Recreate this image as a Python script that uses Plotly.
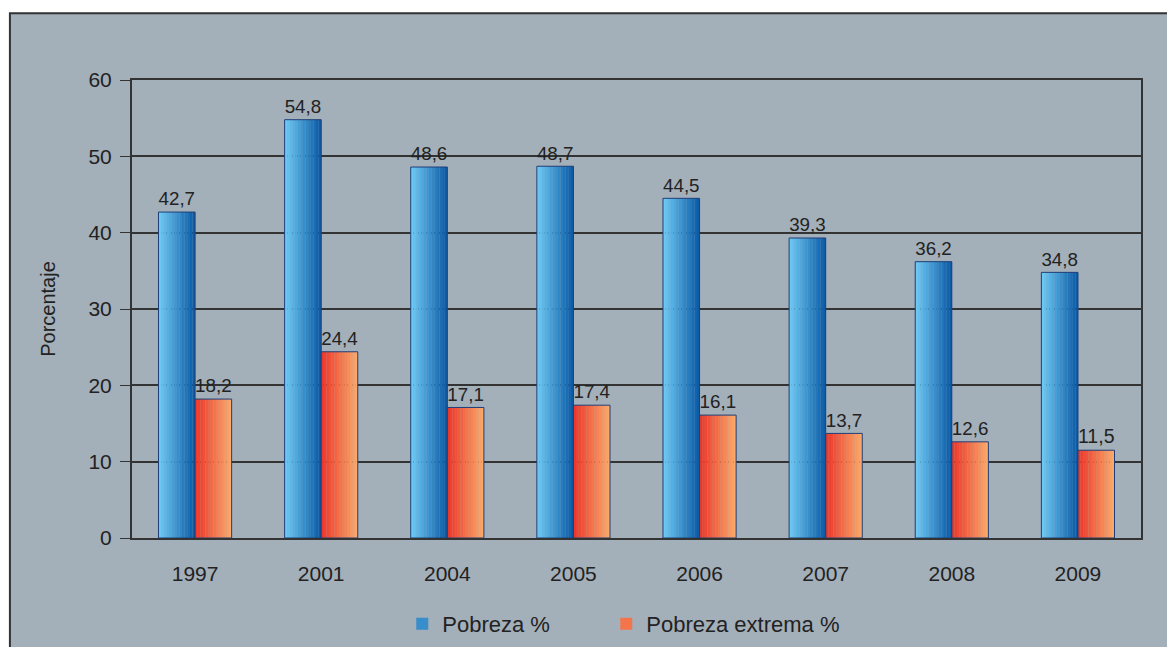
import plotly.graph_objects as go

# ── Data ──────────────────────────────────────────────────────────────────────
years = ["1997", "2001", "2004", "2005", "2006", "2007", "2008", "2009"]
pobreza = [42.7, 54.8, 48.6, 48.7, 44.5, 39.3, 36.2, 34.8]
pobreza_extrema = [18.2, 24.4, 17.1, 17.4, 16.1, 13.7, 12.6, 11.5]

# ── Style ─────────────────────────────────────────────────────────────────────
FONT = "Liberation Sans, Arial, sans-serif"
BOX_BG = "#a3afb9"
PLOT_BG = "#d4d4d4"
INK = "#222222"
LINE = "#333333"
BAR_W = 0.29      # width of one bar, in category units
N_SLICES = 14     # thin slices used to fake the horizontal gradient

SERIES = [
    # name, values, left colour, right colour, offset, legend id
    ("Pobreza %", pobreza, (112, 204, 246), (8, 88, 164), -BAR_W, "legend"),
    ("Pobreza extrema %", pobreza_extrema, (236, 52, 40), (250, 172, 108), 0.0, "legend2"),
]


def mix(c0, c1, t):
    r, g, b = (round(a + (b - a) * t) for a, b in zip(c0, c1))
    return f"rgb({r},{g},{b})"


def fmt(v):
    return f"{v:.1f}".replace(".", ",")


fig = go.Figure()

for name, vals, c0, c1, off, leg in SERIES:
    step = BAR_W / N_SLICES
    for k in range(N_SLICES):
        fig.add_trace(
            go.Bar(
                x=years,
                y=vals,
                width=step * 1.05,
                offset=off + k * step,
                marker={"color": mix(c0, c1, (k + 0.5) / N_SLICES), "line": {"width": 0}},
                name=name,
                legend=leg,
                legendgroup=name,
                showlegend=(k == N_SLICES // 2),
                hoverinfo="skip",
            )
        )
    # outline + value labels
    fig.add_trace(
        go.Bar(
            x=years,
            y=vals,
            width=BAR_W,
            offset=off,
            marker={"color": "rgba(0,0,0,0)", "line": {"color": "#1f3f78", "width": 1}},
            text=[fmt(v) for v in vals],
            textposition="outside",
            textfont={"size": 20, "color": INK, "family": FONT},
            cliponaxis=False,
            name=name,
            legend=leg,
            legendgroup=name,
            showlegend=False,
            hovertemplate="%{x}<br>%{y:.1f}%<extra>" + name + "</extra>",
        )
    )

# grey framed box behind the chart (open to the right and bottom)
fig.add_shape(
    type="rect",
    xref="paper", yref="paper",
    x0=-0.121, x1=1.2, y0=-0.5, y1=1.146,
    fillcolor=BOX_BG,
    line={"color": LINE, "width": 2},
    layer="below",
)

legend_style = {
    "orientation": "h",
    "xref": "container",
    "yref": "container",
    "xanchor": "left",
    "yanchor": "middle",
    "y": 0.0355,
    "font": {"size": 22, "color": INK},
    "bgcolor": "rgba(0,0,0,0)",
}

fig.update_layout(
    width=1167,
    height=647,
    barmode="overlay",
    margin={"l": 132, "r": 26, "t": 80, "b": 109},
    paper_bgcolor="white",
    plot_bgcolor=PLOT_BG,
    font={"family": FONT, "size": 21, "color": INK},
    legend={**legend_style, "x": 0.3447},
    legend2={**legend_style, "x": 0.5195},
    xaxis={
        "showgrid": False,
        "showline": True,
        "linecolor": LINE,
        "linewidth": 2,
        "mirror": True,
        "ticks": "",
        "ticklabelstandoff": 16,
        "tickfont": {"size": 21},
    },
    yaxis={
        "range": [0, 60],
        "dtick": 10,
        "showgrid": True,
        "gridcolor": LINE,
        "gridwidth": 1.5,
        "showline": True,
        "linecolor": LINE,
        "linewidth": 2,
        "mirror": True,
        "ticks": "outside",
        "ticklen": 10,
        "tickcolor": LINE,
        "ticklabelstandoff": 4,
        "tickfont": {"size": 21},
        "zeroline": False,
        "title": {"text": "Porcentaje", "font": {"size": 20}, "standoff": 27},
    },
)

# drop the default page margin so the figure fills the window exactly
fig.write_html(
    "out.html",
    config={"displayModeBar": False},
    post_script="document.body.style.margin = '0';",
)
